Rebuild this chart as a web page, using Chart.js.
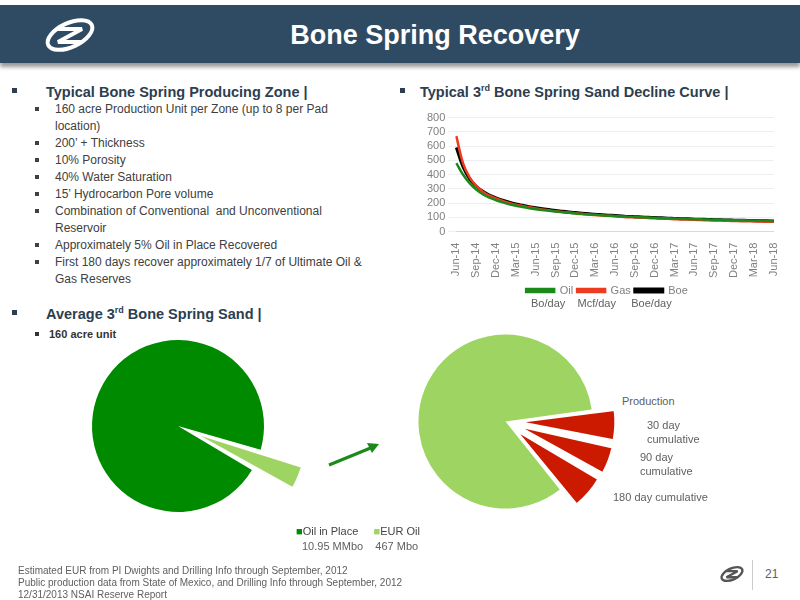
<!DOCTYPE html>
<html><head><meta charset="utf-8">
<script src="https://cdn.jsdelivr.net/npm/chart.js@4"></script>
<style>
body{margin:0;width:800px;height:600px;position:relative;background:#fff;font-family:Arial,"Liberation Sans",sans-serif;overflow:hidden}
.abs{position:absolute}
#hdr{left:0;top:5px;width:800px;height:58px;background:#2f4b64;box-shadow:0 4px 4px #999}
#title{color:#fff;font-weight:bold;font-size:27px;text-align:center}
.h{font-weight:bold;color:#2c3e50;font-size:14.5px}
.sq{position:absolute;left:0;top:5px;width:5px;height:5px;background:#2c3e50}
ul{margin:0;padding:0;list-style:none}
.b{font-size:12px;color:#404040;line-height:17px;position:relative;padding-left:21px}
.b:before{content:"";position:absolute;left:1px;top:6px;width:4px;height:4px;background:#404040}
.gray{color:#606060;font-size:11px}
</style></head><body>
<div id="hdr" class="abs"></div>
<div id="title" class="abs" style="left:70px;width:730px;top:20px">Bone Spring Recovery</div>
<svg class="abs" style="left:40px;top:14px" width="60" height="42" viewBox="0 0 60 42">
<ellipse cx="30" cy="21" rx="24" ry="12" fill="none" stroke="#fff" stroke-width="4" transform="rotate(-25 30 21)"/>
<path d="M18 15 L42 15 L18 28 L42 28" fill="none" stroke="#fff" stroke-width="4"/>
</svg>

<div class="abs" style="left:12px;top:83px"><span class="sq"></span><span class="h" style="margin-left:34px">Typical Bone Spring Producing Zone |</span></div>
<ul class="abs" style="left:34px;top:101px;width:335px">
<li class="b">160 acre Production Unit per Zone (up to 8 per Pad location)</li>
<li class="b">200’ + Thickness</li>
<li class="b">10% Porosity</li>
<li class="b">40% Water Saturation</li>
<li class="b">15’ Hydrocarbon Pore volume</li>
<li class="b">Combination of Conventional &nbsp;and Unconventional Reservoir</li>
<li class="b">Approximately 5% Oil in Place Recovered</li>
<li class="b">First 180 days recover approximately 1/7 of Ultimate Oil &amp; Gas Reserves</li>
</ul>
<div class="abs" style="left:12px;top:305px"><span class="sq"></span><span class="h" style="margin-left:34px">Average 3<sup style="font-size:9px">rd</sup> Bone Spring Sand |</span></div>
<div class="abs" style="left:34px;top:328px;font-size:11px;font-weight:bold;color:#333"><span style="display:inline-block;width:4px;height:4px;background:#333;margin:0 10px 2px 1px"></span>160 acre unit</div>

<div class="abs" style="left:400px;top:83px"><span class="sq"></span><span class="h" style="margin-left:20px">Typical 3<sup style="font-size:9px">rd</sup> Bone Spring Sand Decline Curve |</span></div>

<div class="abs" style="left:424px;top:108px;width:366px;height:212px"><canvas id="line"></canvas></div>
<div class="abs gray" style="left:531px;top:297px;font-size:11px">Bo/day&nbsp;&nbsp;&nbsp; Mcf/day&nbsp;&nbsp;&nbsp;&nbsp; Boe/day</div>

<div class="abs" style="left:42px;top:290px;width:272px;height:272px;pointer-events:none"><canvas id="pie1"></canvas></div>
<div class="abs" style="left:390px;top:306px;width:231px;height:231px;pointer-events:none"><canvas id="pie2"></canvas></div>

<svg class="abs" style="left:325px;top:435px" width="60" height="35"><line x1="4" y1="30" x2="48" y2="12" stroke="#1a8a1a" stroke-width="3"/><polygon points="54,9 42,8 47,18" fill="#1a8a1a"/></svg>

<div class="abs gray" style="left:622px;top:395px">Production</div>
<div class="abs gray" style="left:647px;top:418px;line-height:14px">30 day<br>cumulative</div>
<div class="abs gray" style="left:640px;top:450px;line-height:14px">90 day<br>cumulative</div>
<div class="abs gray" style="left:613px;top:491px">180 day cumulative</div>

<div class="abs" style="left:296px;top:525px;font-size:11px;color:#444;font-family:'Liberation Sans Narrow',Arial"><span style="color:#008a00">■</span>Oil in Place&nbsp;&nbsp;&nbsp;&nbsp; <span style="color:#9dd462">■</span>EUR Oil</div>
<div class="abs gray" style="left:302px;top:540px">10.95 MMbo &nbsp;&nbsp;&nbsp;467 Mbo</div>

<div class="abs gray" style="left:18px;top:565px;font-size:10px;line-height:12px">Estimated EUR from PI Dwights and Drilling Info through September, 2012<br>Public production data from State of Mexico, and Drilling Info through September, 2012<br>12/31/2013 NSAI Reserve Report</div>
<div class="abs" style="left:752px;top:560px;width:1px;height:30px;background:#ccc"></div>
<div class="abs gray" style="left:765px;top:567px;font-size:12px">21</div>
<svg class="abs" style="left:718px;top:563px" width="28" height="22" viewBox="0 0 60 42"><ellipse cx="30" cy="21" rx="24" ry="12" fill="none" stroke="#555" stroke-width="5" transform="rotate(-25 30 21)"/><path d="M18 15 L42 15 L18 28 L42 28" fill="none" stroke="#555" stroke-width="5"/></svg>

<script>
const months=[];
const mn=['Jan','Feb','Mar','Apr','May','Jun','Jul','Aug','Sep','Oct','Nov','Dec'];
for(let i=0;i<49;i++){const m=(5+i)%12,y=14+Math.floor((5+i)/12);months.push(mn[m]+'-'+y);}
const oil=[480,400,340,295,262,238,220,205,192,181,172,164,157,151,145,140,135,131,127,123,120,117,114,111,109,106,104,102,100,98,96,94,93,91,90,88,87,86,84,83,82,81,80,79,78,77,76,75,74];
const gas=[670,480,380,320,280,252,232,215,201,189,179,170,162,155,149,143,138,133,128,124,120,116,113,110,107,104,101,99,97,95,93,91,89,87,85,84,82,81,79,78,77,75,74,73,72,71,70,69,68];
const boe=[590,455,370,318,282,256,236,220,206,194,184,175,167,160,154,148,143,138,133,129,125,121,118,115,112,109,106,104,102,100,98,96,94,92,90,89,87,86,85,83,82,81,80,79,78,77,76,75,74];
const pie1Labels=['EUR Oil','Oil in Place'];
const pie1Values=[467,10950];
const pie2Labels=['30 day cumulative','90 day cumulative','180 day cumulative','Production'];
const pie2Values=[5.5,5,6,83.5];

const tc='#808080';
new Chart(document.getElementById('line'),{type:'line',
data:{labels:months,datasets:[
{label:'Oil',data:oil,borderColor:'#1a8a1a',backgroundColor:'#1a8a1a',borderWidth:2.5,pointRadius:0,tension:0.4},
{label:'Gas',data:gas,borderColor:'#ee3b1f',backgroundColor:'#ee3b1f',borderWidth:2.5,pointRadius:0,tension:0.4},
{label:'Boe',data:boe,borderColor:'#000',backgroundColor:'#000',borderWidth:3,pointRadius:0,tension:0.4}]},
options:{responsive:true,maintainAspectRatio:false,animation:false,
layout:{padding:{bottom:14}},
plugins:{legend:{position:'bottom',labels:{boxWidth:28,boxHeight:3,color:tc,font:{size:11},padding:4}},tooltip:{enabled:false}},
scales:{x:{grid:{display:false},border:{color:'#d9d9d9'},ticks:{color:tc,font:{size:11},autoSkip:false,maxRotation:90,minRotation:90,callback:(v,i)=>i%3===0?months[i]:''}},
y:{min:0,max:800,ticks:{stepSize:100,autoSkip:false,color:tc,font:{size:11}},grid:{color:'#eeeeee'},border:{display:false}}}}});

new Chart(document.getElementById('pie1'),{type:'pie',
data:{labels:pie1Labels,datasets:[{data:pie1Values,backgroundColor:['#9dd462','#008a00'],borderWidth:0,offset:(c)=>c.dataIndex===0?100:0}]},
options:{responsive:true,maintainAspectRatio:false,animation:false,events:[],rotation:106,plugins:{legend:{display:false},tooltip:{enabled:false}}}});

new Chart(document.getElementById('pie2'),{type:'pie',
data:{labels:pie2Labels,datasets:[{data:pie2Values,backgroundColor:['#cc1a00','#cc1a00','#cc1a00','#9dd462'],borderColor:'#fff',borderWidth:[2,2,2,0],offset:(c)=>c.dataIndex<3?55:0}]},
options:{responsive:true,maintainAspectRatio:false,animation:false,events:[],rotation:82,plugins:{legend:{display:false},tooltip:{enabled:false}}}});
</script>
</body></html>
